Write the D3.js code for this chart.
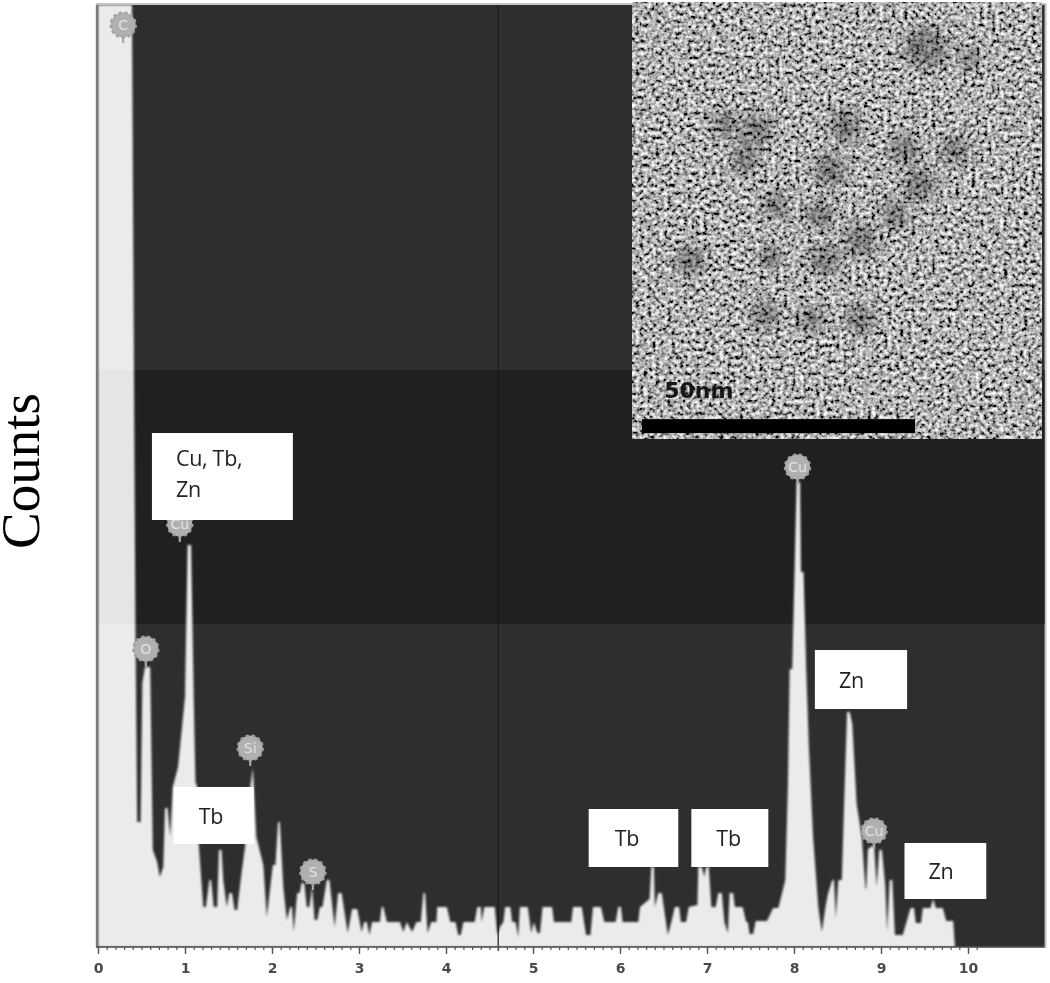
<!DOCTYPE html>
<html><head><meta charset="utf-8">
<script src="https://cdn.jsdelivr.net/npm/d3@7"></script>
<style>html,body{margin:0;padding:0;background:#fff}svg{display:block}</style>
</head><body><svg id="c" width="1050" height="983"></svg>
<script>
const energy=[0,.39,.43,.45,.49,.51,.54,.60,.63,.68,.71,.75,.77,.80,.83,.86,.92,1.0,1.03,1.07,1.10,1.12,1.14,1.16,1.21,1.24,1.28,1.30,1.33,1.37,1.39,1.42,1.44,1.48,1.51,1.54,1.57,1.60,1.64,1.69,1.75,1.78,1.82,1.90,1.94,2.01,2.04,2.07,2.09,2.13,2.17,2.21,2.23,2.25,2.29,2.32,2.34,2.37,2.40,2.43,2.46,2.49,2.52,2.55,2.58,2.63,2.66,2.72,2.76,2.80,2.87,2.92,2.98,3.03,3.06,3.09,3.12,3.15,3.21,3.24,3.26,3.28,3.32,3.47,3.51,3.55,3.61,3.66,3.71,3.74,3.76,3.78,3.79,3.83,3.89,3.90,4.01,4.05,4.11,4.14,4.17,4.20,4.33,4.36,4.40,4.41,4.44,4.56,4.59,4.62,4.66,4.68,4.74,4.76,4.80,4.83,4.85,4.94,4.98,5.01,5.05,5.08,5.11,5.22,5.24,5.44,5.46,5.56,5.61,5.66,5.69,5.78,5.82,5.95,5.98,6.01,6.03,6.21,6.23,6.34,6.36,6.39,6.40,6.44,6.48,6.52,6.55,6.59,6.63,6.68,6.70,6.76,6.79,6.89,6.90,6.94,6.97,6.99,7.02,7.05,7.10,7.13,7.17,7.20,7.24,7.26,7.30,7.32,7.41,7.45,7.47,7.49,7.53,7.56,7.69,7.76,7.82,7.86,7.90,7.93,7.95,7.98,8.03,8.07,8.08,8.11,8.14,8.17,8.22,8.28,8.32,8.36,8.39,8.44,8.46,8.48,8.51,8.55,8.57,8.61,8.64,8.67,8.72,8.78,8.82,8.83,8.85,8.92,8.95,8.98,9.01,9.05,9.07,9.10,9.13,9.16,9.25,9.29,9.34,9.38,9.40,9.46,9.48,9.57,9.60,9.63,9.71,9.75,9.83,9.85];
const counts=[942,942,320,125,125,264,280,280,97,85,70,80,139,139,110,160,180,250,402,402,250,165,160,100,40,40,67,67,40,40,97,97,67,40,54,54,37,37,67,100,160,179,110,82,30,82,82,125,125,60,27,40,40,15,54,54,64,64,40,40,60,27,27,40,40,67,67,20,54,54,14,38,38,15,25,25,12,25,25,25,40,40,25,25,15,25,15,25,25,54,54,25,14,25,25,40,40,25,25,12,12,25,25,40,40,25,40,40,12,20,25,40,40,25,25,10,40,40,14,25,14,14,40,40,25,25,40,40,12,12,40,40,25,25,40,40,25,25,40,48,80,80,40,54,54,30,12,25,40,40,25,25,40,42,80,80,70,80,80,40,40,54,54,25,14,54,54,40,40,25,25,13,13,26,26,39,39,53,67,161,278,278,465,465,375,375,278,202,109,39,15,39,53,67,67,29,67,67,126,235,235,223,143,109,60,57,98,102,60,97,97,60,15,67,67,12,12,24,39,39,24,24,39,39,48,39,39,26,26,0];

const xTicks=[0,1,2,3,4,5,6,7,8,9,10];
const minorTicks=d3.range(0,102).map(d=>d/10);

const markerNames=["C","Cu","O","Si","S","Cu","Cu"];
const markerEnergy=[.29,.94,.55,1.75,2.47,8.04,8.92];
const markerCounts=[922,423,298,199,75,480,116];

const labelLines=[["Cu, Tb,","Zn"],["Tb"],["Tb"],["Tb"],["Zn"],["Zn"]];
const labelEnergy=[.62,.87,5.64,6.82,8.24,9.27];
const labelTopCounts=[514,160,138,138,297,104];
const labelWidthKeV=[1.62,.92,1.03,.885,1.06,.94];
const labelHeightCounts=[87,57,58,58,59,56];
const labelTextDx=[24,25,26,25,24,24];

const particleX=[53.7,22.9,20.7,39,50,59.2,52.7,36.3,41.8,48.2,34.4,10.6,35.3,24.4,32.6,41.8,26.2,17,25.3,61.9];
const particleY=[8.4,23.4,28.9,22.5,27.1,27.1,33.5,30.8,43.6,39,39,47.3,47.3,57.3,58.2,58.2,37.2,22.5,46.9,10.6];
const particleR=[4,3,2.6,3,2.8,2.6,3,3,3,2.6,2.6,2.8,2.8,2.6,2.4,2.6,2.4,2.4,2.2,2];

const x=d3.scaleLinear().domain([0,10]).range([98,968]);
const y=d3.scaleLinear().domain([0,942]).range([947,5]);
const nx=d3.scaleLinear().domain([0,75]).range([632,1041.5]);
const ny=d3.scaleLinear().domain([0,80]).range([2,438.8]);

const svg=d3.select("#c");
const defs=svg.append("defs");
const softer=defs.append("filter").attr("id","softer");
softer.append("feGaussianBlur").attr("stdDeviation",.6);
const softArea=defs.append("filter").attr("id","softArea");
softArea.append("feGaussianBlur").attr("stdDeviation",.85);
const blob=defs.append("filter").attr("id","blob").attr("x","-60%").attr("y","-60%").attr("width","220%").attr("height","220%");
blob.append("feGaussianBlur").attr("stdDeviation",6);
const clip=defs.append("clipPath").attr("id","plot");
clip.append("rect").attr("x",x(0)).attr("y",y(942)).attr("width",947).attr("height",942);
const clipInset=defs.append("clipPath").attr("id","inset");
clipInset.append("rect").attr("x",nx(0)).attr("y",ny(0)).attr("width",nx(75)-nx(0)).attr("height",ny(80)-ny(0));
const noise=defs.append("filter").attr("id","tem").attr("x",0).attr("y",0).attr("width","100%").attr("height","100%");
noise.append("feTurbulence").attr("type","fractalNoise").attr("baseFrequency",.25).attr("numOctaves",2).attr("seed",11);
noise.append("feColorMatrix").attr("type","matrix").attr("values","1.9 0 0 0 -0.52  1.9 0 0 0 -0.52  1.9 0 0 0 -0.52  0 0 0 0 1");
noise.append("feGaussianBlur").attr("stdDeviation",.7);

// frame and background
const plotW=x(10.88)-x(0);
svg.append("rect").attr("x",x(0)-2).attr("y",y(942)-2).attr("width",plotW+4).attr("height",y(0)-y(942)+3).attr("fill","#c4c4c4");
svg.append("rect").attr("x",x(0)).attr("y",y(942)).attr("width",plotW).attr("height",y(0)-y(942)).attr("fill","#2e2e2e");
svg.append("rect").attr("x",x(0)).attr("y",y(577)).attr("width",plotW).attr("height",y(323)-y(577)).attr("fill","#202020");

// spectrum
const pts=d3.zip(energy,counts);
svg.append("path").datum(pts).attr("clip-path","url(#plot)").attr("filter","url(#softArea)")
 .attr("fill","#ebebeb")
 .attr("d",d3.area().x(d=>x(d[0])).y0(y(0)).y1(d=>y(d[1])));
svg.append("rect").attr("x",x(0)).attr("y",y(577)).attr("width",x(.42)-x(0)).attr("height",y(323)-y(577)).attr("fill","#000").attr("opacity",.025);

// 4.6 keV cursor
svg.append("line").attr("x1",x(4.6)).attr("x2",x(4.6)).attr("y1",y(942)).attr("y2",y(0)+4).attr("stroke","#1a1a1a").attr("stroke-width",1.2);

// left axis edge and baseline
svg.append("line").attr("x1",x(0)-1).attr("x2",x(0)-1).attr("y1",y(942)).attr("y2",y(0)).attr("stroke","#7a7a7a").attr("stroke-width",2.4);
svg.append("line").attr("x1",x(0)-2).attr("x2",x(0)+plotW).attr("y1",y(0)).attr("y2",y(0)).attr("stroke","#555").attr("stroke-width",1.6);

// axes
const minor=svg.append("g").attr("transform",`translate(0,${y(0)})`)
 .call(d3.axisBottom(x).tickValues(minorTicks).tickSize(3).tickFormat(""));
minor.select(".domain").remove();
minor.selectAll("line").attr("stroke","#555").attr("stroke-width",1.2);
const major=svg.append("g").attr("transform",`translate(0,${y(0)})`)
 .call(d3.axisBottom(x).tickValues(xTicks).tickSize(7).tickPadding(9).tickFormat(d3.format("d")));
major.select(".domain").remove();
major.selectAll("line").attr("stroke","#555").attr("stroke-width",1.4);
major.selectAll("text").attr("fill","#4a4a4a").attr("font-family","'DejaVu Sans',sans-serif").attr("font-size",14).attr("font-weight",600).attr("filter","url(#softer)");

// peak markers
const mk=svg.append("g").selectAll("g").data(markerNames).join("g")
 .attr("transform",(d,i)=>`translate(${x(markerEnergy[i])},${y(markerCounts[i])})`);
mk.append("line").attr("y1",10).attr("y2",18).attr("stroke","#a8a8a8").attr("stroke-width",2.2);
mk.append("circle").attr("r",12.5).attr("fill","#b0b0b0").attr("stroke","#a0a0a0").attr("stroke-width",2.4).attr("stroke-dasharray","3 3").attr("filter","url(#softer)");
mk.append("text").text(d=>d).attr("text-anchor","middle").attr("dy",5).attr("fill","#e2e2e2")
 .attr("font-family","'DejaVu Sans',sans-serif").attr("font-size",14);

// label boxes
const lb=svg.append("g").selectAll("g").data(labelLines).join("g")
 .attr("transform",(d,i)=>`translate(${x(labelEnergy[i])},${y(labelTopCounts[i])})`);
lb.append("rect").attr("width",(d,i)=>x(labelWidthKeV[i])-x(0)).attr("height",(d,i)=>y(0)-y(labelHeightCounts[i])).attr("fill","#fff");
lb.each(function(lines,i){
 const h=y(0)-y(labelHeightCounts[i]);
 d3.select(this).selectAll("text").data(lines).join("text").text(d=>d)
  .attr("x",labelTextDx[i]).attr("y",(d,j)=>lines.length>1?33+j*31:h/2+8)
  .attr("fill","#222").attr("font-family","'Open Sans',sans-serif").attr("font-size",21.5).attr("letter-spacing",-.3).attr("filter","url(#softer)");
});

// inset micrograph
const inset=svg.append("g");
inset.append("rect").attr("x",nx(0)).attr("y",ny(0)).attr("width",nx(75)-nx(0)).attr("height",ny(80)-ny(0)).attr("fill","#888").attr("filter","url(#tem)");
inset.append("g").attr("clip-path","url(#inset)").selectAll("circle").data(particleX).join("circle")
 .attr("cx",d=>nx(d)).attr("cy",(d,i)=>ny(particleY[i])).attr("r",(d,i)=>nx(particleR[i])-nx(0))
 .attr("fill","#000").attr("opacity",.3).attr("filter","url(#blob)");
inset.append("rect").attr("x",nx(1.83)).attr("y",ny(76.4)).attr("width",nx(51.83)-nx(1.83)).attr("height",14).attr("fill","#000").attr("filter","url(#softer)");
inset.append("text").text("50nm").attr("x",nx(5.9)).attr("y",ny(72.6)).attr("fill","#151515")
 .attr("font-family","'DejaVu Sans',sans-serif").attr("font-weight",700).attr("font-size",22).attr("filter","url(#softer)");

// y title
svg.append("text").text("Counts").attr("transform","translate(39,471) rotate(-90)").attr("text-anchor","middle")
 .attr("fill","#000").attr("font-family","'Liberation Serif',serif").attr("font-size",55);
</script></body></html>
